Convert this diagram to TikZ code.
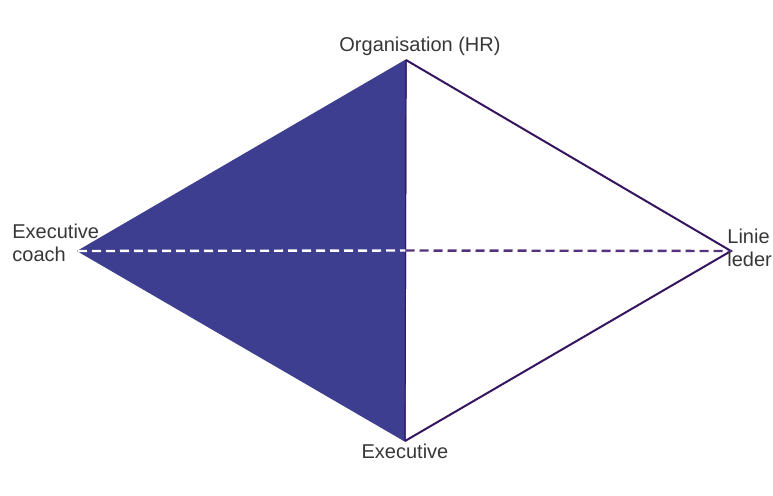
\documentclass[tikz,border=0pt]{standalone}
\usepackage{fontspec}
\setmainfont{Liberation Sans}
\usetikzlibrary{positioning,calc}
\definecolor{fillC}{RGB}{62,62,145}
\definecolor{edgeC}{RGB}{55,20,95}
\definecolor{dashC}{RGB}{85,50,125}
\definecolor{textC}{RGB}{55,55,55}
\tikzset{
	corner/.style={font=\fontsize{10}{11.5}\selectfont, text=textC, inner sep=0pt},
	edge/.style={draw=edgeC, line width=1pt, line join=miter},
	axis/.style={dash pattern=on 4.5pt off 2.5pt, line width=1.2pt},
}

\begin{document}
\begin{tikzpicture}[x=0.5pt, y=-0.5pt]
		\useasboundingbox (0,0) rectangle (773,495);
		
		% =============== CORNERS ===============
		\coordinate (hr)    at (406,60);
		\coordinate (exec)  at (405,441);
		\coordinate (coach) at (78,251);
		\coordinate (line)  at (731,251);
		\coordinate (mid)   at ($(hr)!0.5!(exec)$);
		
		% =============== LEFT HALF (filled) ===============
		\filldraw[fillC, line width=0.6pt, line join=miter] (hr) -- (coach) -- (exec) -- cycle;
		\draw[edge] (hr) -- (line) -- (exec);
		\draw[edgeC, line width=0.6pt] (hr) -- (exec);
		
		% =============== DASHED AXIS ===============
		\draw[axis, white] (coach) -- (mid);
		\draw[axis, dashC] (mid) -- (line);
		
		% =============== LABELS ===============
		\node[corner, anchor=south] (hrL) at (420,56) {Organisation (HR)};
		\node[corner, anchor=north] (execL) at (405,444) {Executive};
		\node[corner, anchor=west, align=left] (coachL) at (12,243) {Executive\\coach};
		\node[corner, anchor=west, align=left] (lineL) at (727,248) {Linie\\leder};
		
	\end{tikzpicture}
\end{document}
